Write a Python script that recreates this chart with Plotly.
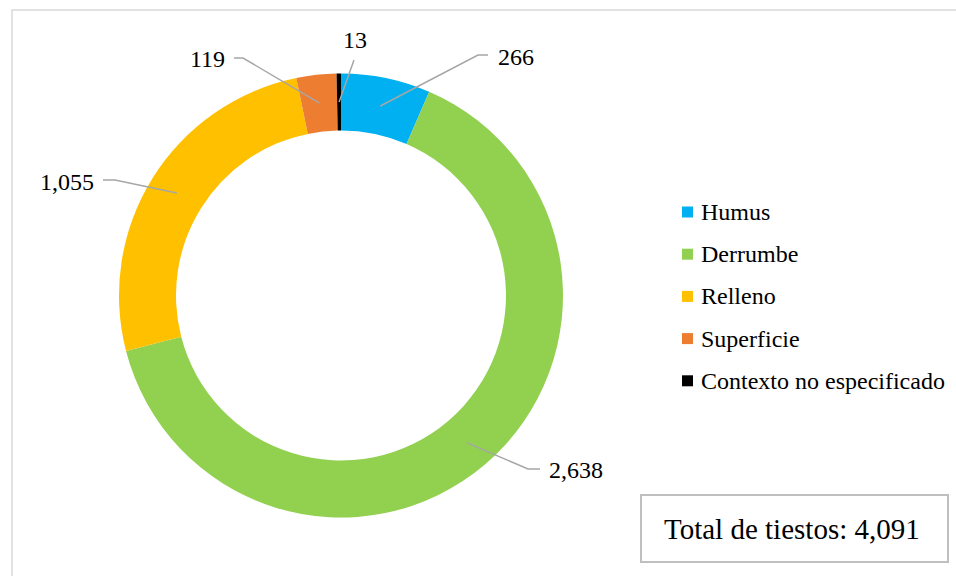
import math
import plotly.graph_objects as go

# ---- data ---------------------------------------------------------------
categories = ["Humus", "Derrumbe", "Relleno", "Superficie", "Contexto no especificado"]
counts = [266, 2638, 1055, 119, 13]
colors = ["#00b0f0", "#92d050", "#ffc000", "#ed7d31", "#000000"]
total_label = "Total de tiestos"

# ---- geometry (pixels) --------------------------------------------------
W, H = 956, 576
CX, CY = 341, 295.5
R_OUT, R_IN = 222, 165
FONT = "Liberation Serif"

# leader-line elbow, line end, text anchor and alignment for each value label
label_layout = [
    dict(elbow=(478, 55), end=(488, 55), text=(496, 57), xanchor="left", yanchor="middle"),
    dict(elbow=(528, 469), end=(540, 469), text=(547, 470), xanchor="left", yanchor="middle"),
    dict(elbow=(115, 180), end=(103, 180), text=(96, 182), xanchor="right", yanchor="middle"),
    dict(elbow=(243, 58), end=(234, 58), text=(227, 59), xanchor="right", yanchor="middle"),
    dict(elbow=(354, 60), end=(354, 60), text=(355, 55), xanchor="center", yanchor="bottom"),
]
legend_x, legend_y0, legend_step = 687.5, 212, 42.2
total_box = (641, 495, 948, 562)

total = sum(counts)

fig = go.Figure()

# donut
fig.add_trace(go.Pie(
    labels=categories,
    values=counts,
    hole=R_IN / R_OUT,
    sort=False,
    direction="clockwise",
    rotation=0,
    marker=dict(colors=colors, line=dict(width=0)),
    textinfo="none",
    hoverinfo="label+value",
    showlegend=False,
    domain=dict(x=[(CX - R_OUT) / W, (CX + R_OUT) / W],
                y=[1 - (CY + R_OUT) / H, 1 - (CY - R_OUT) / H]),
))

# legend swatches on a pixel-space overlay axis
legend_ys = [legend_y0 + i * legend_step for i in range(len(categories))]
fig.add_trace(go.Scatter(
    x=[legend_x] * len(categories), y=legend_ys,
    mode="markers",
    marker=dict(symbol="square", size=11, color=colors, line=dict(width=0)),
    hoverinfo="skip", showlegend=False,
))

shapes = []
annotations = []

# outer chart frame
shapes.append(dict(type="rect", xref="x", yref="y", x0=12, y0=10, x1=W + 20, y1=H + 20,
                   line=dict(color="#d9d9d9", width=1.5), layer="below"))

# value labels with leader lines from the middle of each slice
cum = 0
r_mid = (R_OUT + R_IN) / 2
for val, lay in zip(counts, label_layout):
    theta = 2 * math.pi * (cum + val / 2) / total
    cum += val
    ax = CX + r_mid * math.sin(theta)
    ay = CY - r_mid * math.cos(theta)
    ex, ey = lay["elbow"]
    fx, fy = lay["end"]
    shapes.append(dict(type="path", xref="x", yref="y",
                       path=f"M{ax:.1f},{ay:.1f} L{ex},{ey} L{fx},{fy}",
                       line=dict(color="#a6a6a6", width=1.5), layer="above"))
    tx, ty = lay["text"]
    annotations.append(dict(x=tx, y=ty, xref="x", yref="y", text=f"{val:,}",
                            showarrow=False, xanchor=lay["xanchor"], yanchor=lay["yanchor"],
                            font=dict(family=FONT, size=24, color="#000000")))

# legend text
for name, y in zip(categories, legend_ys):
    annotations.append(dict(x=legend_x + 11, y=y, xref="x", yref="y", text=name,
                            showarrow=False, xanchor="left", yanchor="middle",
                            font=dict(family=FONT, size=24, color="#000000")))

# total box
bx0, by0, bx1, by1 = total_box
shapes.append(dict(type="rect", xref="x", yref="y", x0=bx0, y0=by0, x1=bx1, y1=by1,
                   line=dict(color="#bfbfbf", width=2), fillcolor="white", layer="below"))
annotations.append(dict(x=(bx0 + bx1) / 2 - 3, y=(by0 + by1) / 2, xref="x", yref="y",
                        text=f"{total_label}: {total:,}", showarrow=False,
                        xanchor="center", yanchor="middle",
                        font=dict(family=FONT, size=29, color="#000000")))

fig.update_layout(
    width=W, height=H,
    margin=dict(l=0, r=0, t=0, b=0),
    paper_bgcolor="white", plot_bgcolor="rgba(0,0,0,0)",
    font=dict(family=FONT),
    xaxis=dict(range=[0, W], visible=False, fixedrange=True, domain=[0, 1]),
    yaxis=dict(range=[H, 0], visible=False, fixedrange=True, domain=[0, 1]),
    shapes=shapes,
    annotations=annotations,
    showlegend=False,
)

fig.write_html("out.html")
